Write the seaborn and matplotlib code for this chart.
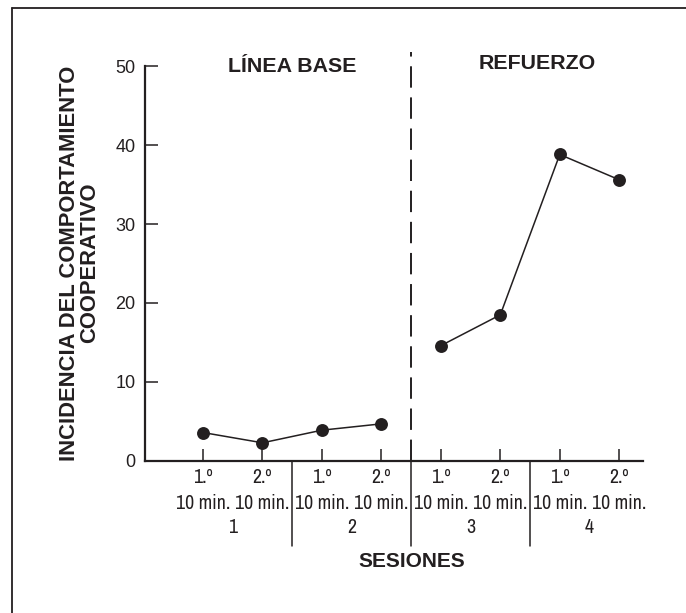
import matplotlib
matplotlib.use("Agg")
import matplotlib.pyplot as plt
import matplotlib.transforms as mtransforms
from matplotlib import font_manager
from matplotlib.lines import Line2D
import pandas as pd
import seaborn as sns

# data
posiciones = [1, 2, 3, 4, 5, 6, 7, 8]
fase = ["Línea base"] * 4 + ["Refuerzo"] * 4
incidencia = [3.6, 2.3, 3.9, 4.7, 14.6, 18.5, 38.8, 35.6]
fila_orden = ["1.º", "2.º"] * 4
fila_tiempo = ["10 min."] * 8
sesiones = ["1", "2", "3", "4"]
sesion_centro = [1.5, 3.5, 5.5, 7.5]
separadores = [2.5, 4.5, 6.5]
y_ticks = [0, 10, 20, 30, 40, 50]

df = pd.DataFrame({"pos": posiciones, "fase": fase, "valor": incidencia})

sns.set_style("ticks")
plt.rcParams["font.family"] = ["Liberation Sans", "DejaVu Sans"]

# look for a condensed face for the crowded x labels
cond = None
for f in font_manager.fontManager.ttflist:
    nm = f.name + " " + str(f.fname)
    es_cond = ("Condensed" in nm or "Narrow" in nm or
               str(f.stretch) in ("condensed", "semi-condensed", "75", "87"))
    if es_cond and f.style == "normal" and f.weight in (400, "normal", "regular"):
        if cond is None or "DejaVu" in cond.name:
            cond = f
if cond is not None:
    fp_x = font_manager.FontProperties(fname=cond.fname, size=14.3)
else:
    fp_x = font_manager.FontProperties(family="Liberation Sans", size=11)

color = "#231f20"
fig = plt.figure(figsize=(6.86, 6.13), dpi=100)
ax = fig.add_axes([0.2114, 0.2480, 0.7259, 0.6443])

# one line per phase (the dashed line breaks the series)
for f in ["Línea base", "Refuerzo"]:
    sns.lineplot(data=df[df["fase"] == f], x="pos", y="valor", ax=ax,
                 color=color, lw=1.1, marker="o", markersize=9.3,
                 markeredgewidth=0, legend=False)

ax.set_xlim(0.024, 8.4)
ax.set_ylim(0, 50)
ax.set_xticks(posiciones)
ax.set_xticklabels([])
ax.set_yticks(y_ticks)
ax.set_yticklabels([str(t) for t in y_ticks], fontsize=13, color=color)
ax.tick_params(axis="both", direction="in", length=9, width=1.1, color=color, pad=6)
ax.tick_params(axis="y", pad=7)
sns.despine(ax=ax)
for s in ["left", "bottom"]:
    ax.spines[s].set_linewidth(1.6)
    ax.spines[s].set_color(color)
ax.set_xlabel("")
ax.set_ylabel("")

trans = mtransforms.blended_transform_factory(ax.transData, ax.transAxes)

# phase divider: dashed above the axis, solid below
ax.plot([4.5, 4.5], [0, 51.8], color=color, lw=1.4,
        linestyle=(0, (11, 5)), clip_on=False)
for xs in separadores:
    ax.plot([xs, xs], [0, -0.215], color=color, lw=1.1,
            transform=trans, clip_on=False)

# multi-row x labels
for x, a, b in zip(posiciones, fila_orden, fila_tiempo):
    ax.text(x, -0.042, a, transform=trans, ha="center", va="center",
            fontproperties=fp_x, color=color)
    ax.text(x, -0.107, b, transform=trans, ha="center", va="center",
            fontproperties=fp_x, color=color)
for x, s in zip(sesion_centro, sesiones):
    ax.text(x, -0.168, s, transform=trans, ha="center", va="center",
            fontproperties=fp_x, color=color)

ax.text(2.5, 50, "LÍNEA BASE", ha="center", va="center", fontsize=15.4,
        fontweight="bold", color=color)
ax.text(6.62, 50.3, "REFUERZO", ha="center", va="center", fontsize=15.4,
        fontweight="bold", color=color)

fig.text(0.116, 1 - 263 / 613, "INCIDENCIA DEL COMPORTAMIENTO\nCOOPERATIVO",
         rotation=90, ha="center", va="center", multialignment="center",
         fontsize=15.8, fontweight="bold", color=color, linespacing=0.95)
fig.text(0.6006, 0.0832, "SESIONES", ha="center", va="center",
         fontsize=15, fontweight="bold", color=color)

# page frame (left and top edges)
fig.add_artist(Line2D([0.0175, 0.0175], [0, 0.987], color=color, lw=1.3,
                      transform=fig.transFigure))
fig.add_artist(Line2D([0.0175, 1], [0.987, 0.987], color=color, lw=1.3,
                      transform=fig.transFigure))

fig.savefig("out.png", dpi=100)
